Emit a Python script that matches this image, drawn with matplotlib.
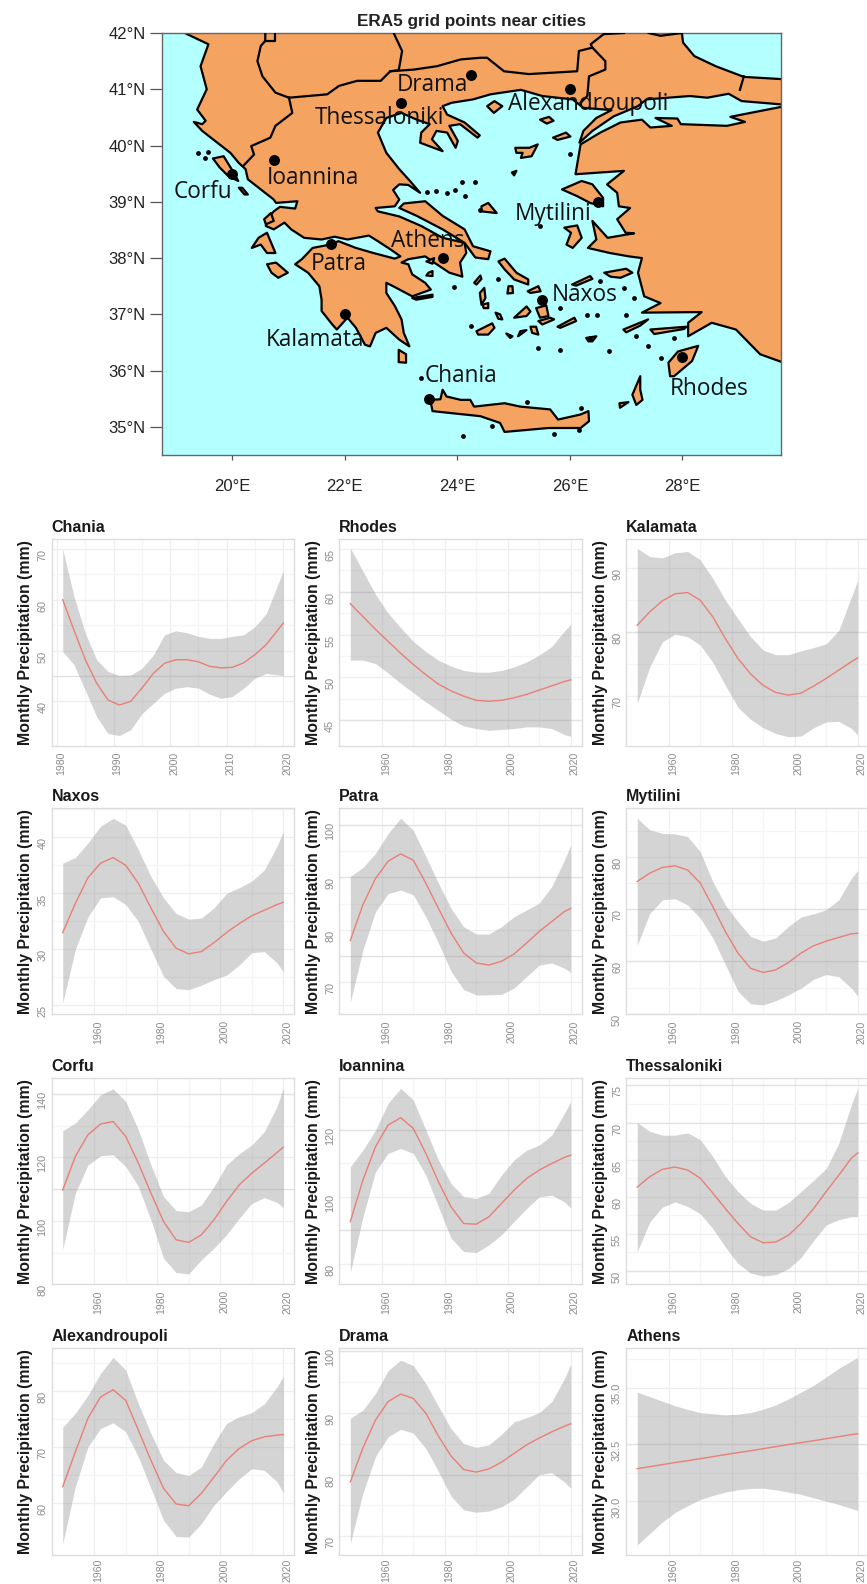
import matplotlib
matplotlib.use("Agg")
import matplotlib.pyplot as plt
from matplotlib.transforms import ScaledTranslation

plt.rcParams['font.family'] = ['Liberation Sans', 'DejaVu Sans']

# ---------- series (mm) ----------
years = [1950, 1954, 1958, 1962, 1966, 1970, 1974, 1978, 1982, 1986, 1990, 1994, 1998, 2002, 2006, 2010, 2014, 2018, 2020]
chania_years = [1981, 1983, 1985, 1987, 1989, 1991, 1993, 1995, 1997, 1999, 2001, 2003, 2005, 2007, 2009, 2011, 2013, 2015, 2017, 2020]

chania_mean = [60, 54, 48.2, 43.6, 40.3, 39.3, 40, 42.6, 45.5, 47.5, 48.2, 48.2, 47.8, 46.9, 46.6, 46.7, 47.6, 49.2, 51.2, 55.4]
chania_up = [70, 60.6, 53.4, 48.2, 45.9, 45.1, 45.2, 46.5, 49.1, 53.1, 53.9, 53.5, 52.8, 52.4, 52.4, 52.8, 53.1, 54.7, 57.3, 65.7]
chania_lo = [49.8, 47.2, 42.2, 37, 33.7, 33.3, 34.4, 37.6, 39.6, 41.6, 42.6, 42.9, 42.6, 41.4, 40.6, 41, 42.6, 44.6, 45.5, 45.1]

rhodes_mean = [58.6, 57.1, 55.6, 54.2, 52.8, 51.5, 50.3, 49.2, 48.4, 47.8, 47.3, 47.2, 47.3, 47.6, 48, 48.5, 49, 49.5, 49.7]
rhodes_up = [65.1, 62.4, 59.7, 57.5, 55.8, 54.2, 53, 52, 51.3, 50.8, 50.6, 50.6, 50.8, 51.2, 51.8, 52.6, 53.6, 55.4, 56.2]
rhodes_lo = [52, 52, 51.6, 50.5, 49.3, 48.2, 47.1, 46.1, 45.1, 44.3, 44, 43.8, 43.9, 44, 44.2, 44.2, 44, 43.3, 43.1]

kalamata_mean = [81.1, 83.2, 84.9, 86, 86.2, 85, 82.4, 79, 75.9, 73.5, 71.7, 70.6, 70.2, 70.5, 71.6, 72.8, 74.1, 75.4, 76]
kalamata_up = [93.1, 91.8, 91.6, 92.4, 92.6, 91.3, 88.4, 85, 82.1, 79.3, 77.2, 76.5, 76.5, 77.1, 77.6, 78.2, 80.3, 85.5, 88.1]
kalamata_lo = [68.9, 74.6, 78.5, 79.7, 79.3, 78, 75.3, 71.7, 68.3, 66.4, 65.1, 64.2, 63.7, 63.8, 65.1, 66, 66.1, 65, 64]

naxos_mean = [31.5, 34.1, 36.4, 37.7, 38.2, 37.5, 35.9, 33.7, 31.6, 30.1, 29.6, 29.8, 30.6, 31.5, 32.3, 33, 33.5, 34, 34.2]
naxos_up = [37.7, 38.2, 39.5, 41, 41.7, 41.1, 38.9, 36.5, 34.6, 33.2, 32.7, 32.8, 33.7, 35, 35.5, 36.1, 37.1, 39.2, 40.5]
naxos_lo = [25.2, 30, 32.9, 34.6, 34.7, 34, 32.5, 30, 27.6, 26.5, 26.4, 26.8, 27.3, 27.7, 28.6, 29.7, 29.8, 28.8, 28]

patra_mean = [78, 84.8, 89.8, 93.1, 94.5, 93.3, 88.9, 84.1, 79.4, 75.6, 73.7, 73.3, 74, 75.4, 77.5, 79.7, 81.6, 83.5, 84.1]
patra_up = [90.2, 91.9, 94.6, 98.4, 101.3, 99, 94, 88.9, 84.1, 80.6, 79.2, 79.2, 80.6, 82.5, 83.8, 85.1, 88.3, 93.3, 96.2]
patra_lo = [66.2, 76.2, 83.5, 86.9, 87.6, 86.7, 82.5, 77.5, 72.1, 68.6, 67.6, 67.6, 67.7, 68.9, 71.1, 73.3, 73.7, 72.7, 71.9]

mytilini_mean = [75.3, 76.9, 78, 78.3, 77.5, 75, 70.5, 65.7, 61.6, 58.7, 57.9, 58.4, 59.8, 61.6, 63, 63.9, 64.6, 65.3, 65.4]
mytilini_up = [87.4, 85.2, 84.5, 84.4, 83.9, 81, 75.3, 70.8, 67.6, 64.8, 63.9, 64.5, 66.7, 68.5, 69.1, 69.9, 71.8, 75.9, 77.4]
mytilini_lo = [63.1, 69.2, 71.8, 72, 70.8, 68.3, 64.5, 59.4, 54.3, 51.9, 51.7, 52.5, 53.6, 54.9, 56.6, 57.5, 57.1, 54.9, 53.4]

corfu_mean = [109.7, 120.3, 127.1, 130.5, 131.3, 126.6, 118.2, 108.7, 99.8, 94, 93.2, 95.6, 100.3, 106.1, 111.3, 115, 118.2, 121.5, 123.2]
corfu_up = [128.4, 130.8, 135, 139.7, 141.6, 137.6, 128.7, 117.6, 107.6, 103.2, 102.9, 105, 110.8, 117.6, 121.1, 123.9, 128.1, 136, 141.8]
corfu_lo = [91, 108.7, 117.6, 120.5, 120.8, 117.1, 110.8, 100.3, 88.2, 83.7, 83.3, 87.7, 91.4, 95.6, 100.8, 105.5, 107.3, 105.8, 104.2]

ioannina_mean = [92.6, 105, 115, 121.5, 123.7, 120.5, 113, 104.5, 97, 92, 91.8, 94, 98, 102, 105.5, 108, 110, 111.8, 112.5]
ioannina_up = [109, 114, 120, 128, 132.5, 129, 120, 111, 104, 100, 99.5, 101, 106.5, 111, 114, 115.5, 118.5, 125, 128.5]
ioannina_lo = [77.3, 94, 107.5, 113, 114.5, 113, 106.5, 97, 87.6, 83.6, 83.3, 85.6, 88.6, 92.6, 96.5, 100, 100.5, 98.5, 96.7]

thess_mean = [61.3, 62.7, 63.7, 64, 63.6, 62.5, 60.5, 58.4, 56.4, 54.6, 53.8, 53.9, 54.8, 56.4, 58.4, 60.7, 62.9, 65.2, 65.9]
thess_up = [70, 68.8, 68.3, 68.3, 68.6, 67.7, 65.4, 62.7, 60.7, 59.1, 58.2, 58.2, 59.2, 60.7, 62.2, 63.8, 67.2, 72.4, 74.6]
thess_lo = [52.6, 56.6, 58.6, 59.3, 58.7, 57.7, 55.7, 53.2, 51, 49.7, 49.3, 49.5, 50.3, 51.8, 54.1, 56.2, 56.9, 57.3, 57.3]

alex_mean = [62.9, 69.1, 75.1, 78.9, 80.2, 78.3, 73, 67.6, 62.6, 59.8, 59.5, 61.7, 64.6, 67.6, 69.7, 71.1, 71.8, 72.1, 72.2]
alex_up = [73.5, 76, 79.2, 83.1, 86, 83.7, 77.7, 72.4, 67.6, 65.4, 64.9, 66.4, 70.6, 74.2, 75.4, 76.1, 77.7, 80.7, 82.6]
alex_lo = [52.7, 62.9, 70, 73.3, 74.3, 72.7, 68.2, 62.6, 56.9, 54, 53.9, 56.3, 59.6, 62, 64.3, 66.1, 65.8, 63.8, 61.8]

drama_mean = [78.8, 84.3, 88.8, 91.8, 93, 92.3, 89.9, 86.2, 83, 80.8, 80.4, 80.9, 82, 83.4, 84.8, 85.9, 86.9, 87.8, 88.2]
drama_up = [89.1, 90.4, 93.1, 96.8, 98.5, 97.6, 94.7, 91, 87.4, 85, 84.4, 84.8, 86.5, 88.5, 89.2, 90, 91.8, 95.5, 97.8]
drama_lo = [68.9, 77, 82.9, 86.1, 87.3, 86.7, 84.2, 80.5, 76.5, 74.3, 73.9, 74.1, 74.8, 76, 78, 80, 80.3, 78.8, 77.8]

athens_mean = [31.43, 31.52, 31.61, 31.7, 31.78, 31.87, 31.96, 32.05, 32.14, 32.22, 32.31, 32.4, 32.49, 32.58, 32.66, 32.75, 32.84, 32.93, 32.97]
athens_up = [34.8, 34.6, 34.4, 34.2, 34.04, 33.9, 33.85, 33.8, 33.83, 33.9, 34.05, 34.24, 34.5, 34.8, 35.1, 35.47, 35.85, 36.17, 36.33]
athens_lo = [28.07, 28.58, 29.08, 29.5, 29.8, 30.07, 30.25, 30.4, 30.5, 30.56, 30.57, 30.5, 30.4, 30.3, 30.15, 30, 29.85, 29.68, 29.6]

# ---------- map data (lon, lat) ----------
city_names = ['Chania', 'Rhodes', 'Kalamata', 'Naxos', 'Patra', 'Mytilini', 'Corfu', 'Ioannina', 'Thessaloniki', 'Alexandroupoli', 'Drama', 'Athens']
city_lon = [23.5, 28, 22, 25.5, 21.75, 26.5, 20, 20.75, 23, 26, 24.25, 23.75]
city_lat = [35.5, 36.25, 37, 37.25, 38.25, 39, 39.5, 39.75, 40.75, 41, 41.25, 38]
label_lon = [24.07, 28.48, 21.47, 26.27, 21.89, 25.70, 19.49, 21.43, 22.62, 26.32, 23.55, 23.47]
label_lat = [35.90, 35.68, 36.55, 37.35, 37.90, 38.79, 39.18, 39.43, 40.49, 40.73, 41.07, 38.30]

europe = [(19.16, 42.0), (19.39, 41.89), (19.58, 41.80), (19.44, 41.41), (19.55, 41.0), (19.38, 40.64), (19.53, 40.44), (19.47, 40.38), (19.32, 40.42),
          (19.47, 40.26), (19.70, 40.08), (19.97, 39.87), (20.12, 39.69), (20.24, 39.58), (20.28, 39.40), (20.51, 39.22), (20.74, 39.04), (20.78, 38.98),
          (21.16, 39.01), (21.12, 38.88), (20.85, 38.91), (20.74, 38.83), (20.62, 38.69), (20.60, 38.57), (20.74, 38.51), (20.93, 38.63), (21.05, 38.51),
          (21.28, 38.36), (21.59, 38.33), (21.82, 38.38), (22.05, 38.33), (22.43, 38.40), (22.59, 38.30), (22.82, 38.15), (22.99, 38.03), (22.89, 37.99),
          (22.51, 38.09), (22.20, 38.18), (21.89, 38.30), (21.74, 38.24), (21.43, 38.18), (21.24, 37.98), (21.12, 37.89), (21.35, 37.74), (21.55, 37.50),
          (21.59, 37.26), (21.59, 37.06), (21.78, 36.82), (21.86, 36.73), (22.05, 36.94), (22.20, 36.76), (22.36, 36.46), (22.45, 36.43), (22.55, 36.67),
          (22.74, 36.76), (22.97, 36.55), (23.15, 36.43), (23.05, 36.67), (23.01, 36.91), (22.89, 37.15), (22.74, 37.38), (22.74, 37.56), (22.86, 37.50),
          (23.20, 37.32), (23.53, 37.44), (23.43, 37.56), (23.20, 37.71), (23.13, 37.89), (23.01, 37.92), (23.13, 37.98), (23.43, 38.03), (23.59, 37.92),
          (23.86, 37.74), (24.09, 37.67), (24.05, 37.92), (24.16, 38.09), (24.13, 38.27), (23.74, 38.36), (23.36, 38.57), (22.97, 38.74), (22.59, 38.83),
          (22.55, 38.89), (22.89, 38.92), (22.97, 39.04), (22.86, 39.21), (22.97, 39.31), (23.13, 39.30), (23.34, 39.16), (23.16, 39.37), (22.97, 39.58),
          (22.74, 39.87), (22.59, 40.23), (22.74, 40.49), (23.01, 40.58), (23.28, 40.46), (23.51, 40.38), (23.36, 40.23), (23.34, 40.05), (23.74, 39.90),
          (23.55, 40.11), (23.63, 40.26), (23.82, 40.23), (23.97, 39.96), (24.01, 40.08), (23.86, 40.35), (24.05, 40.38), (24.36, 40.14), (24.40, 40.18),
          (24.13, 40.41), (23.82, 40.55), (23.74, 40.70), (23.90, 40.76), (24.28, 40.82), (24.59, 40.91), (25.13, 40.99), (25.51, 40.88), (26.05, 40.82),
          (26.24, 40.67), (26.74, 40.63), (26.47, 40.49), (26.24, 40.26), (26.17, 40.05), (26.40, 40.26), (26.78, 40.52), (27.21, 40.70), (27.36, 40.82),
          (28.13, 40.88), (28.44, 40.85), (28.82, 40.92), (29.05, 40.79), (29.77, 40.73), (29.77, 41.18), (29.09, 41.22), (28.59, 41.41), (28.21, 41.59),
          (28.01, 41.83), (27.99, 42.0), (27.99, 42.1), (19.16, 42.1)]

anatolia = [(29.77, 40.69), (28.85, 40.51), (29.11, 40.42), (28.79, 40.35), (27.97, 40.38), (27.91, 40.48), (27.52, 40.49), (27.81, 40.35), (27.43, 40.32),
            (27.28, 40.46), (26.90, 40.41), (26.54, 40.23), (26.19, 40.02), (26.10, 39.49), (26.96, 39.55), (26.66, 39.31), (26.84, 39.16), (26.87, 38.92),
            (27.07, 38.89), (26.84, 38.69), (26.99, 38.45), (27.14, 38.44), (26.67, 38.36), (26.40, 38.66), (26.47, 38.33), (26.32, 38.18), (26.71, 38.09),
            (27.05, 38.03), (27.28, 38.00), (27.21, 37.74), (27.32, 37.32), (27.61, 37.20), (27.28, 37.03), (28.34, 37.04), (28.10, 36.85), (28.10, 36.61),
            (28.52, 36.85), (28.95, 36.73), (29.38, 36.29), (29.77, 36.15)]

islands = [
    [(23.05, 38.97), (23.43, 39.01), (23.74, 38.75), (24.13, 38.51), (24.28, 38.21), (24.59, 38.12), (24.55, 37.98), (24.32, 38.01), (24.13, 38.27), (23.74, 38.51), (23.28, 38.75), (22.97, 38.89)],
    [(19.66, 39.77), (19.85, 39.81), (20.01, 39.55), (20.11, 39.37), (19.93, 39.46), (19.78, 39.61)],
    [(20.12, 39.25), (20.18, 39.25), (20.28, 39.13), (20.22, 39.13)],
    [(20.69, 38.80), (20.74, 38.66), (20.60, 38.60), (20.57, 38.69)],
    [(20.35, 38.18), (20.47, 38.36), (20.62, 38.45), (20.77, 38.09), (20.62, 38.09), (20.51, 38.24)],
    [(20.62, 37.89), (20.78, 37.92), (20.99, 37.74), (20.82, 37.65), (20.70, 37.74)],
    [(22.96, 36.37), (23.09, 36.29), (23.09, 36.14), (22.96, 36.15)],
    [(23.56, 35.28), (23.52, 35.48), (23.70, 35.49), (23.74, 35.66), (23.81, 35.54), (24.06, 35.48), (24.23, 35.48), (24.30, 35.36), (24.84, 35.42), (25.12, 35.36), (25.65, 35.31), (25.79, 35.13), (26.19, 35.22), (26.33, 35.28), (26.34, 35.10), (26.19, 34.98), (25.62, 34.98), (24.84, 34.91), (24.76, 35.07), (24.41, 35.19), (23.84, 35.25)],
    [(27.75, 36.14), (27.92, 36.34), (28.28, 36.44), (28.17, 36.17), (27.85, 35.90), (27.78, 35.90)],
    [(27.25, 35.90), (27.25, 35.66), (27.29, 35.48), (27.18, 35.39), (27.11, 35.57)],
    [(26.88, 35.42), (27.04, 35.44), (26.89, 35.34)],
    [(26.95, 36.73), (27.39, 36.91), (27.25, 36.80), (27.0, 36.68)],
    [(24.73, 37.94), (24.84, 37.99), (25.05, 37.74), (25.26, 37.62), (25.26, 37.53), (25.01, 37.62), (24.84, 37.80)],
    [(24.30, 37.56), (24.41, 37.69), (24.43, 37.63), (24.34, 37.53)],
    [(24.40, 37.38), (24.48, 37.47), (24.50, 37.29), (24.43, 37.17)],
    [(24.45, 37.17), (24.55, 37.20), (24.55, 37.11), (24.47, 37.11)],
    [(24.91, 37.50), (24.98, 37.50), (24.99, 37.38), (24.89, 37.37)],
    [(25.25, 37.41), (25.44, 37.50), (25.48, 37.41), (25.30, 37.38)],
    [(25.40, 37.11), (25.58, 37.16), (25.62, 36.97), (25.47, 36.94)],
    [(25.01, 36.94), (25.23, 37.14), (25.30, 37.05), (25.23, 36.97)],
    [(24.68, 37.03), (24.76, 37.0), (24.80, 36.91), (24.73, 36.92)],
    [(24.34, 36.70), (24.62, 36.84), (24.66, 36.76), (24.55, 36.64), (24.37, 36.64)],
    [(25.12, 36.70), (25.23, 36.72), (25.08, 36.61)],
    [(24.87, 36.66), (24.98, 36.61), (24.94, 36.58)],
    [(25.78, 36.78), (26.08, 36.94), (26.11, 36.88), (25.83, 36.76)],
    [(25.30, 36.78), (25.40, 36.78), (25.44, 36.64), (25.33, 36.67)],
    [(25.44, 36.88), (25.65, 36.94), (25.72, 36.91), (25.51, 36.82)],
    [(26.29, 36.58), (26.47, 36.61), (26.40, 36.52), (26.33, 36.52)],
    [(26.04, 37.53), (26.36, 37.68), (26.40, 37.63), (26.11, 37.51)],
    [(26.61, 37.74), (27.0, 37.81), (27.11, 37.74), (26.90, 37.65), (26.72, 37.67)],
    [(23.45, 37.94), (23.59, 38.0), (23.56, 37.90)],
    [(23.49, 37.74), (23.56, 37.77), (23.56, 37.68), (23.45, 37.69)],
    [(23.20, 37.29), (23.56, 37.35), (23.56, 37.31), (23.27, 37.26)],
    [(27.43, 36.73), (28.07, 36.78), (28.03, 36.74), (27.50, 36.65)],
    [(24.53, 40.70), (24.66, 40.79), (24.80, 40.70), (24.65, 40.58)],
    [(25.47, 40.46), (25.63, 40.51), (25.71, 40.44), (25.59, 40.39)],
    [(25.70, 40.14), (25.93, 40.23), (26.01, 40.16), (25.78, 40.10)],
    [(25.03, 39.96), (25.28, 39.96), (25.43, 40.02), (25.32, 39.81), (25.13, 39.78), (25.16, 39.87), (25.05, 39.87)],
    [(24.97, 39.52), (25.05, 39.55), (25.01, 39.47)],
    [(25.86, 39.22), (26.21, 39.37), (26.40, 39.31), (26.59, 39.07), (26.59, 38.92), (26.36, 38.98), (26.13, 39.10)],
    [(25.90, 38.54), (26.13, 38.58), (26.21, 38.36), (26.05, 38.18), (25.94, 38.24), (26.02, 38.45)],
    [(24.43, 38.92), (24.55, 38.98), (24.70, 38.80), (24.43, 38.83)],
]

islet_lon = [27.18, 27.39, 27.61, 27.85, 27.0, 27.14, 26.97, 26.53, 25.83, 26.31, 26.49, 26.36, 26.70, 25.44, 25.82, 24.25, 23.95, 24.73, 25.23, 26.20, 26.17, 25.72, 24.61, 24.10, 23.35, 19.39, 19.58, 19.52, 26.0, 25.47, 23.47, 23.63, 23.82, 23.96, 24.09, 24.32, 24.13, 24.40]
islet_lat = [36.61, 36.43, 36.23, 36.58, 36.98, 37.29, 37.47, 37.59, 37.11, 36.99, 36.99, 36.58, 36.34, 36.40, 36.36, 36.79, 37.48, 37.62, 35.44, 35.34, 34.94, 34.87, 35.01, 34.83, 35.87, 39.86, 39.88, 39.77, 39.85, 38.57, 39.17, 39.19, 39.16, 39.21, 39.35, 39.35, 39.10, 38.85]

borders = [
    [(20.59, 41.98), (20.59, 41.86), (20.51, 41.77), (20.45, 41.50), (20.54, 41.23), (20.77, 40.94), (21.01, 40.85)],
    [(20.59, 41.86), (20.77, 41.86), (20.77, 41.99)],
    [(21.01, 40.85), (21.07, 40.58), (20.77, 40.35), (20.68, 40.14), (20.34, 39.99), (20.39, 39.84), (20.21, 39.65)],
    [(21.01, 40.85), (21.69, 40.91), (21.90, 41.06), (22.22, 41.15), (22.64, 41.15), (22.81, 41.32), (23.23, 41.35), (23.64, 41.41), (24.06, 41.53), (24.41, 41.56), (24.53, 41.56), (24.83, 41.32), (25.27, 41.27), (26.13, 41.32), (26.16, 41.68), (26.40, 41.74), (26.63, 41.50), (26.63, 41.35), (26.34, 41.23), (26.31, 40.88), (26.19, 40.76)],
    [(22.81, 41.32), (22.96, 41.34), (23.02, 41.68), (22.87, 42.0)],
    [(26.40, 41.74), (26.37, 41.80), (26.60, 41.98), (26.96, 42.0)],
    [(27.40, 42.0), (27.61, 41.95), (27.99, 42.0)],
    [(29.09, 41.23), (29.02, 40.99)],
]

lon_ticks = [20, 22, 24, 26, 28]
lat_ticks = [35, 36, 37, 38, 39, 40, 41, 42]

# ---------- panels: title, x, mean, upper, lower, x ticks, y ticks, y range, stronger y lines ----------
x_ticks = [1960, 1980, 2000, 2020]
panels = [
    ('Chania', chania_years, chania_mean, chania_up, chania_lo, [1980, 1990, 2000, 2010, 2020], [40, 50, 60, 70], (31.3, 72.0), [45]),
    ('Rhodes', years, rhodes_mean, rhodes_up, rhodes_lo, x_ticks, [45, 50, 55, 60, 65], (42.0, 66.2), [45, 60]),
    ('Kalamata', years, kalamata_mean, kalamata_up, kalamata_lo, x_ticks, [70, 80, 90], (62.3, 94.6), [80]),
    ('Naxos', years, naxos_mean, naxos_up, naxos_lo, x_ticks, [25, 30, 35, 40], (24.2, 42.6), []),
    ('Patra', years, patra_mean, patra_up, patra_lo, x_ticks, [70, 80, 90, 100], (63.9, 103.2), [100, 90, 75]),
    ('Mytilini', years, mytilini_mean, mytilini_up, mytilini_lo, x_ticks, [50, 60, 70, 80], (49.9, 89.3), [60, 70]),
    ('Corfu', years, corfu_mean, corfu_up, corfu_lo, x_ticks, [80, 100, 120, 140], (80, 145), [140, 110]),
    ('Ioannina', years, ioannina_mean, ioannina_up, ioannina_lo, x_ticks, [80, 100, 120], (73.8, 135.6), [120, 90]),
    ('Thessaloniki', years, thess_mean, thess_up, thess_lo, x_ticks, [50, 55, 60, 65, 70, 75], (48.2, 76), [75, 70, 50]),
    ('Alexandroupoli', years, alex_mean, alex_up, alex_lo, x_ticks, [60, 70, 80], (50.7, 87.6), []),
    ('Drama', years, drama_mean, drama_up, drama_lo, x_ticks, [70, 80, 90, 100], (67, 100.4), [100, 80]),
    ('Athens', years, athens_mean, athens_up, athens_lo, x_ticks, [30.0, 32.5, 35.0], (27.63, 36.73), [32.5]),
]

W, H = 867, 1584
fig = plt.figure(figsize=(W / 100, H / 100), dpi=100, facecolor='white')


def px_axes(left, top, right, bottom):
    return fig.add_axes([left / W, 1 - bottom / H, (right - left) / W, (bottom - top) / H])


def shift(label, dx, dy):
    label.set_transform(label.get_transform() + ScaledTranslation(dx / 100, dy / 100, fig.dpi_scale_trans))


# ---------- map ----------
LAND, SEA = '#F4A460', '#B4FFFF'
m = px_axes(161.7, 33, 781, 455)
m.set_facecolor(SEA)
m.set_xlim(18.75, 29.75)
m.set_ylim(34.5, 42)
for shape in [europe, anatolia] + islands:
    m.fill([p[0] for p in shape], [p[1] for p in shape], facecolor=LAND, edgecolor='black', lw=1.6, joinstyle='round', zorder=2)
for line in borders:
    m.plot([p[0] for p in line], [p[1] for p in line], color='black', lw=1.6, zorder=3)
m.scatter(islet_lon, islet_lat, s=12, color='black', zorder=3, linewidths=0)
m.scatter(city_lon, city_lat, s=62, color='black', zorder=4, linewidths=0)
for name, x, y in zip(city_names, label_lon, label_lat):
    m.text(x, y, name, ha='center', va='center', fontsize=16.3, family=['Open Sans', 'DejaVu Sans'], color='#111111', zorder=5)
m.set_xticks(lon_ticks, [f'{v}°E' for v in lon_ticks])
m.set_yticks(lat_ticks, [f'{v}°N' for v in lat_ticks])
m.tick_params(axis='x', length=3.6, width=0.9, color='#555555', labelsize=12, labelcolor='#222222', pad=14)
m.tick_params(axis='y', length=8.5, width=0.9, color='#555555', labelsize=12, labelcolor='#222222', pad=3)
for s in m.spines.values():
    s.set_color('#666666')
    s.set_linewidth(1)
m.set_title('ERA5 grid points near cities', fontsize=12.3, fontweight='bold', color='#222222', pad=5)

# ---------- smooth panels ----------
col_px = [(51.7, 294.3), (339.3, 581.7), (626.2, 868.7)]
row_px = [(538.7, 745.7), (808.3, 1014.3), (1078, 1284.3), (1348.3, 1555)]

for i, (name, xs, mean, up, lo, xt, yt, yr, strong) in enumerate(panels):
    left, right = col_px[i % 3]
    top, bottom = row_px[i // 3]
    ax = px_axes(left, top, right, bottom)
    pad = (xs[-1] - xs[0]) * 0.05
    ax.set_xlim(xs[0] - pad, xs[-1] + pad)
    ax.set_ylim(*yr)
    ax.set_axisbelow(True)
    xstep = xt[1] - xt[0]
    ystep = yt[1] - yt[0]
    xm = [v + xstep / 2 for v in xt if v + xstep / 2 < ax.get_xlim()[1]]
    ym = [v + ystep / 2 for v in yt if v + ystep / 2 < yr[1]]
    ax.set_xticks(xt)
    ax.set_yticks(yt)
    ax.set_xticks(xm, minor=True)
    ax.set_yticks(ym, minor=True)
    ax.grid(which='major', color='#eeeeee', lw=0.9)
    ax.grid(which='minor', color='#f5f5f5', lw=0.9)
    for v in strong:
        ax.axhline(v, color='#e2e2e2', lw=0.9, zorder=0.9)
    ax.fill_between(xs, lo, up, color='#999999', alpha=0.42, lw=0, zorder=2)
    ax.plot(xs, mean, color='#E97F76', lw=1.0, zorder=3)
    ax.tick_params(which='both', length=0)
    ax.tick_params(axis='x', labelsize=7.6, labelcolor='#8c8c8c', labelrotation=90, pad=2.5 if i // 3 == 3 else 4.3)
    ax.tick_params(axis='y', labelsize=7.8, labelcolor='#8c8c8c', labelrotation=90, pad=3)
    if name == 'Athens':
        ax.set_yticklabels([f'{v:.1f}' for v in yt])
    for lab in ax.get_xticklabels():
        shift(lab, 4, 0)
    for lab in ax.get_yticklabels():
        lab.set_va('center')
        shift(lab, 0, -6)
    for s in ax.spines.values():
        s.set_color('#dddddd')
        s.set_linewidth(1)
    ax.set_title(name, loc='left', fontsize=11.5, fontweight='bold', color='#1a1a1a', pad=5)
    ax.set_ylabel('Monthly Precipitation (mm)', fontsize=11.4, fontweight='bold', color='#1a1a1a')
    ax.yaxis.set_label_coords(-18.5 / (right - left), 0.5)

fig.savefig('out.png', dpi=100, facecolor='white')
